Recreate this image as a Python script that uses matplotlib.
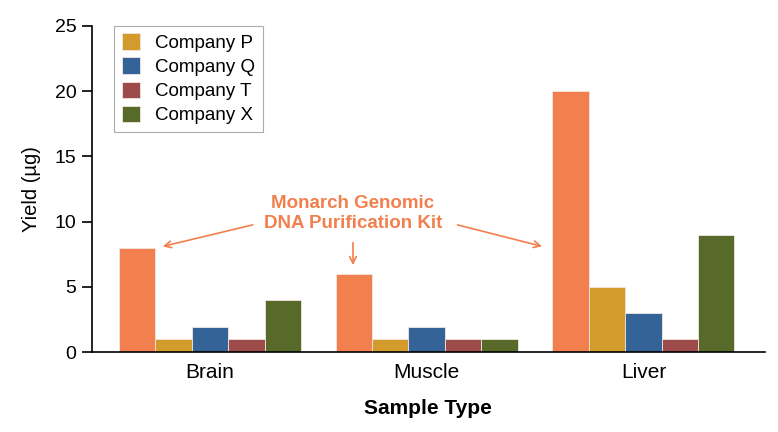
import matplotlib.pyplot as plt
import numpy as np

plt.rcParams['font.family'] = ['Liberation Sans', 'DejaVu Sans']

categories = ["Brain", "Muscle", "Liver"]
series = ["Monarch", "Company P", "Company Q", "Company T", "Company X"]
monarch = [8, 6, 20]
company_p = [1, 1, 5]
company_q = [1.9, 1.9, 3]
company_t = [1, 1, 1]
company_x = [4, 1, 9]
yticks = [0, 5, 10, 15, 20, 25]

colors = ["#F2804F", "#D29B2C", "#336397", "#9E4B4B", "#586A2A"]

fig = plt.figure(figsize=(7.78, 4.32), dpi=100)
ax = fig.add_axes([0.118, 0.185, 0.865, 0.755])

x = np.arange(len(categories))
width = 0.168
values = [monarch, company_p, company_q, company_t, company_x]
handles = []
for i, (vals, col) in enumerate(zip(values, colors)):
    b = ax.bar(x + (i - 2) * width, vals, width, color=col,
               edgecolor="#f3e6df", linewidth=0.6, label=series[i])
    handles.append(b)

ax.set_xlim(-0.545, 2.56)
ax.set_ylim(0, 25)
ax.set_yticks(yticks)
ax.set_xticks(x)
ax.set_xticklabels(categories, fontsize=15)
ax.tick_params(axis='y', labelsize=14, length=7, width=1.2, direction='out', pad=4)
ax.tick_params(axis='x', length=0, pad=8)
ax.spines['top'].set_visible(False)
ax.spines['right'].set_visible(False)
ax.spines['left'].set_linewidth(1.2)
ax.spines['bottom'].set_linewidth(1.2)
ax.set_ylabel("Yield (µg)", fontsize=14.5, labelpad=10)
ax.set_xlabel("Sample Type", fontsize=15, fontweight='bold', labelpad=12)

leg = ax.legend(handles[1:], series[1:], loc='upper left',
                bbox_to_anchor=(0.033, 1.0), borderaxespad=0, fontsize=13.5,
                frameon=True, fancybox=False, edgecolor="#999999",
                handlelength=1.0, handleheight=1.0, handletextpad=0.8,
                borderpad=0.4, labelspacing=0.28)
leg.get_frame().set_linewidth(0.8)

orange = "#F2804F"
ax.text(0.66, 10.65, "Monarch Genomic\nDNA Purification Kit", ha='center',
        va='center', fontsize=13.5, fontweight='bold', color=orange,
        linespacing=1.25)
arrow = dict(arrowstyle='->', color=orange, lw=1.2, mutation_scale=12)
ax.annotate("", xy=(-0.23, 8.05), xytext=(0.21, 9.8), arrowprops=arrow)
ax.annotate("", xy=(0.66, 6.45), xytext=(0.66, 8.6), arrowprops=arrow)
ax.annotate("", xy=(1.545, 8.05), xytext=(1.13, 9.8), arrowprops=arrow)

fig.savefig("out.png", dpi=100)
